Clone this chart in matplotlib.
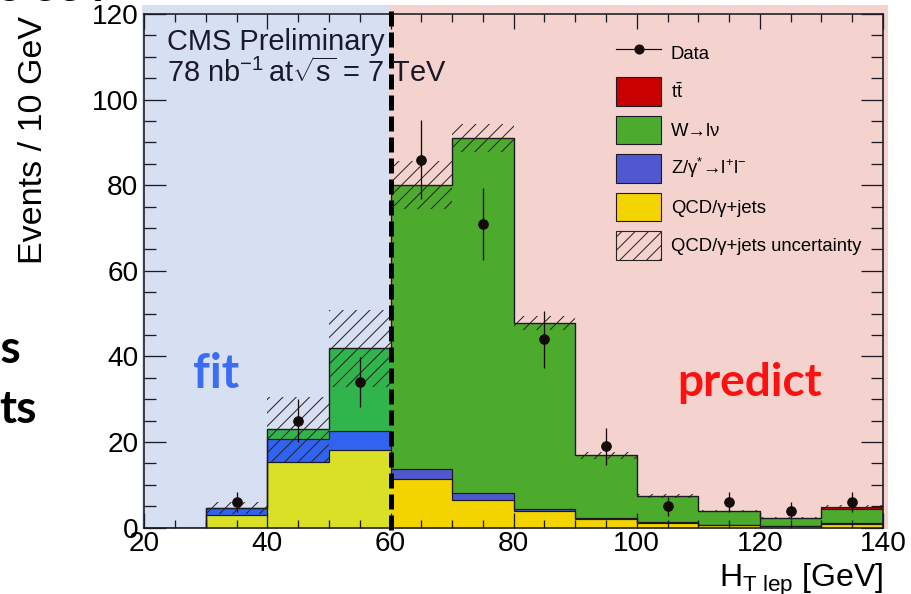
import numpy as np
import matplotlib
matplotlib.use("Agg")
import matplotlib.pyplot as plt
from matplotlib.patches import Rectangle, Patch
from matplotlib.lines import Line2D
from matplotlib.ticker import MultipleLocator

# canvas in pixels, dpi chosen so the hatch spacing matches the original
W, H, DPI = 911, 594, 80


def pt(px):
    return px * 72.0 / DPI


def fx(px):
    return px / W


def fy(py):
    return 1 - py / H


# histogram data (10 GeV bins)
bin_edges = [20, 30, 40, 50, 60, 70, 80, 90, 100, 110, 120, 130, 140]
qcd = [0, 2.9, 15.4, 18.2, 11.3, 6.5, 3.9, 2.0, 1.1, 0.6, 0.3, 0.9]
zll = [0, 1.6, 5.3, 4.5, 2.35, 1.5, 0.5, 0.35, 0.2, 0.1, 0.05, 0.1]
wln = [0, 0.1, 2.3, 19.2, 66.45, 83.0, 43.4, 14.55, 6.1, 3.2, 1.85, 3.3]
ttb = [0, 0, 0, 0, 0, 0, 0, 0, 0, 0, 0.05, 0.6]
qcd_unc = [0, 1.5, 7.6, 9.0, 5.6, 3.3, 1.7, 0.8, 0.4, 0.3, 0.2, 0.3]

data_x = [35, 45, 55, 65, 75, 85, 95, 105, 115, 125, 135]
data_y = [6, 25, 34, 86, 71, 44, 19, 5, 6, 4, 6]
data_err = [2.4, 5.0, 5.8, 9.3, 8.4, 6.6, 4.4, 2.2, 2.4, 2.0, 2.4]

legend_labels = ["Data", r"t$\bar{\mathrm{t}}$", "W\u2192l\u03bd",
                 "Z/\u03b3$^{*}$\u2192l$^{+}$l$^{-}$", "QCD/\u03b3+jets",
                 "QCD/\u03b3+jets uncertainty"]

plt.rcParams['font.family'] = ['Liberation Sans', 'DejaVu Sans']
plt.rcParams['mathtext.fontset'] = 'custom'
plt.rcParams['mathtext.rm'] = 'Liberation Sans'
plt.rcParams['mathtext.it'] = 'Liberation Sans:italic'
plt.rcParams['mathtext.bf'] = 'Liberation Sans:bold'
plt.rcParams['hatch.linewidth'] = pt(1.0)
plt.rcParams['lines.scale_dashes'] = False

line_col = '#1c1a24'
hatch_col = '#2a2222'
data_col = '#150a0a'
col_left = ['#d9e026', '#2f63f0', '#30b44c', '#c80000']
col_right = ['#f4d400', '#5058d0', '#4caa2c', '#c80000']

fig = plt.figure(figsize=(W / DPI, H / DPI), dpi=DPI)
ax = fig.add_axes([fx(144.3), fy(527.7), (883 - 144.3) / W, (527.7 - 14) / H])
ax.set_facecolor('none')

# fit / predict shaded boxes behind the plot
fig.add_artist(Rectangle((fx(142), fy(529)), (390 - 142) / W, (529 - 5) / H,
                         transform=fig.transFigure, facecolor='#d7dff2',
                         edgecolor='none', zorder=-2))
fig.add_artist(Rectangle((fx(390), fy(529)), (888 - 390) / W, (529 - 5) / H,
                         transform=fig.transFigure, facecolor='#f4d3cf',
                         edgecolor='none', zorder=-2))

edges = np.array(bin_edges, dtype=float)
layers = np.cumsum(np.array([qcd, zll, wln, ttb]), axis=0)
bases = np.vstack([np.zeros(len(qcd)), layers[:-1]])

# stacked fills, separate colours left / right of the 60 GeV cut
for i0, i1, cols in [(0, 4, col_left), (4, 12, col_right)]:
    for k in range(4):
        ax.stairs(layers[k, i0:i1], edges[i0:i1 + 1], baseline=bases[k, i0:i1],
                  fill=True, color=cols[k], lw=0, zorder=1)

for k in range(4):
    ax.stairs(layers[k], edges, baseline=0, fill=False, color=line_col,
              lw=pt(1.2), zorder=3)

total = layers[-1]
unc = np.array(qcd_unc)
centers = 0.5 * (edges[:-1] + edges[1:])
ax.bar(centers, 2 * unc, bottom=total - unc, width=10, fill=False,
       hatch='//', edgecolor=hatch_col, linewidth=0, zorder=4)

ax.errorbar(data_x, data_y, yerr=data_err, fmt='o', color=data_col,
            markersize=pt(9.5), elinewidth=pt(1.3), capsize=0, zorder=5)

ax.plot([60, 60], [-0.5, 122], color='black', lw=pt(5), clip_on=False,
        dashes=(pt(15), pt(6)), zorder=6)

ax.set_xlim(20, 140)
ax.set_ylim(0, 120)
ax.xaxis.set_major_locator(MultipleLocator(20))
ax.xaxis.set_minor_locator(MultipleLocator(5))
ax.yaxis.set_major_locator(MultipleLocator(20))
ax.yaxis.set_minor_locator(MultipleLocator(5))
ax.tick_params(which='both', direction='in', top=True, right=True,
               color=line_col, width=pt(1.3), labelsize=pt(28), labelcolor='black')
ax.tick_params(axis='y', which='major', length=pt(22), pad=pt(6))
ax.tick_params(axis='y', which='minor', length=pt(12))
ax.tick_params(axis='x', which='major', length=pt(15), pad=pt(3))
ax.tick_params(axis='x', which='minor', length=pt(8))
for s in ax.spines.values():
    s.set_color(line_col)
    s.set_linewidth(pt(1.6))

handles = [Line2D([], [], color=data_col, marker='o', markersize=pt(9), lw=pt(1.2)),
           Patch(facecolor=col_right[3], edgecolor=line_col),
           Patch(facecolor=col_right[2], edgecolor=line_col),
           Patch(facecolor=col_right[1], edgecolor=line_col),
           Patch(facecolor=col_right[0], edgecolor=line_col),
           Patch(facecolor='none', edgecolor=hatch_col, hatch='//')]
fs = 18.5
ax.legend(handles, legend_labels, loc='upper left',
          bbox_to_anchor=(fx(616), fy(39)), bbox_transform=fig.transFigure,
          frameon=False, fontsize=pt(fs), handlelength=45 / fs,
          handleheight=2.0, labelspacing=0.53,
          handletextpad=10 / fs, borderpad=0, borderaxespad=0)

txt = '#1a1a2a'
fig.text(fx(167), fy(50), 'CMS Preliminary', fontsize=pt(29), color=txt, va='baseline')
fig.text(fx(167), fy(82), r'78 nb$^{-1}$', fontsize=pt(29), color=txt, va='baseline')
fig.text(fx(268), fy(82), r'at$\sqrt{\mathrm{s}}$ = 7 TeV',
         fontsize=pt(29), color=txt, va='baseline')

fig.text(fx(34), fy(140), 'Events / 10 GeV', rotation=90, ha='center', va='center',
         fontsize=pt(34))
fig.text(fx(883), fy(587), r'H$_{\mathrm{T\ lep}}$ [GeV]', ha='right',
         va='baseline', fontsize=pt(32))

fig.text(fx(193), fy(388), 'fit', family='Lato', weight='bold', fontsize=pt(47),
         color='#3a6df2', va='baseline')
fig.text(fx(677), fy(396), 'predict', family='Lato', weight='bold', fontsize=pt(46),
         color='#ff1010', va='baseline')

# bits of the surrounding slide text
fig.text(fx(22), fy(363), 'ss', ha='right', va='baseline', family='Lato',
         weight='bold', fontsize=pt(46))
fig.text(fx(37), fy(423), 'ts', ha='right', va='baseline', family='Lato',
         weight='bold', fontsize=pt(46))
fig.text(fx(-4), fy(1), 'e ee i', va='baseline', family='Lato',
         weight='bold', fontsize=pt(46))

fig.savefig('out.png', dpi=DPI)
